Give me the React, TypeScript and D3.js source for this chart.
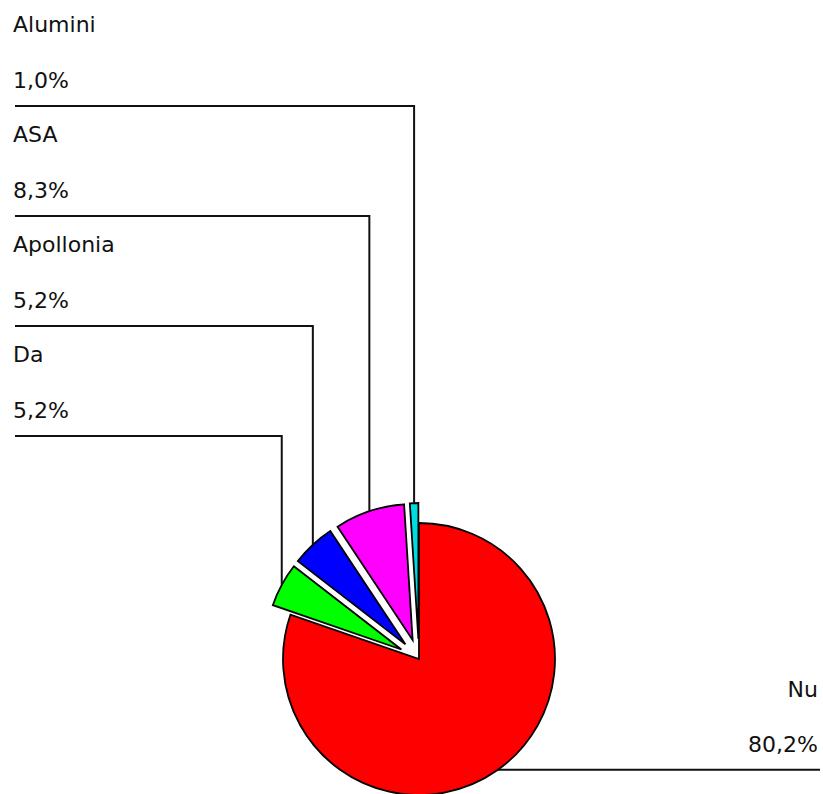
import React from 'react';
import * as d3 from 'd3';

const categories = ['Nu', 'Da', 'Apollonia', 'ASA', 'Alumini'];
const shares = [80.2, 5.2, 5.2, 8.3, 1.0];
const colors = ['#ff0000', '#00ff00', '#0000ff', '#ff00ff', '#00dde0'];
const exploded = [false, true, true, true, true];

const width = 823;
const height = 794;

const App: React.FC = () => {
  const cx = 419;
  const cy = 659;
  const radius = 136;
  const explode = 20;
  const font = 'DejaVu Sans, Verdana, sans-serif';
  const fontSize = 22;

  const pie = d3.pie<number>().sort(null).value(d => d).startAngle(0).endAngle(2 * Math.PI);
  const slices = pie(shares);
  const arc = d3.arc<d3.PieArcDatum<number>>().innerRadius(0).outerRadius(radius);

  const fmt = (v: number) => v.toFixed(1).replace('.', ',') + '%';

  // left-hand labels stack from the top, last slice first
  const leftOrder = slices
    .map((s, i) => ({ s, i }))
    .filter(d => exploded[d.i])
    .reverse();

  return (
    <div style={{ position: 'absolute', left: 0, top: 0, background: '#fff' }}>
      <svg width={width} height={height} style={{ display: 'block' }}>
        <rect width={width} height={height} fill="#fff" />
        {slices.map((s, i) => {
          const mid = (s.startAngle + s.endAngle) / 2;
          const off = exploded[i] ? explode : 0;
          const dx = Math.sin(mid) * off;
          const dy = -Math.cos(mid) * off;
          return (
            <path
              key={categories[i]}
              d={arc(s) || ''}
              transform={`translate(${cx + dx},${cy + dy})`}
              fill={colors[i]}
              stroke="#000"
              strokeWidth={1.8}
              strokeLinejoin="miter"
            />
          );
        })}
        {leftOrder.map(({ s, i }, k) => {
          const mid = (s.startAngle + s.endAngle) / 2;
          const px = cx + Math.sin(mid) * (explode + radius);
          const py = cy - Math.cos(mid) * (explode + radius);
          const lineY = 106 + k * 110;
          return (
            <g key={categories[i]}>
              <polyline
                points={`15,${lineY} ${px},${lineY} ${px},${py}`}
                fill="none"
                stroke="#111"
                strokeWidth={2}
              />
              <text x={13} y={lineY - 74} fontFamily={font} fontSize={fontSize} fill="#111">
                {categories[i]}
              </text>
              <text x={13} y={lineY - 18} fontFamily={font} fontSize={fontSize} fill="#111">
                {fmt(shares[i])}
              </text>
            </g>
          );
        })}
        {slices
          .map((s, i) => ({ s, i }))
          .filter(d => !exploded[d.i])
          .map(({ s, i }) => {
            const mid = (s.startAngle + s.endAngle) / 2;
            const px = cx + Math.sin(mid) * radius;
            const py = cy - Math.cos(mid) * radius;
            return (
              <g key={categories[i]}>
                <line x1={px} y1={py} x2={820} y2={py} stroke="#111" strokeWidth={2} />
                <text x={818} y={py - 73} textAnchor="end" fontFamily={font} fontSize={fontSize} fill="#111">
                  {categories[i]}
                </text>
                <text x={818} y={py - 18} textAnchor="end" fontFamily={font} fontSize={fontSize} fill="#111">
                  {fmt(shares[i])}
                </text>
              </g>
            );
          })}
      </svg>
    </div>
  );
};

export default App;
